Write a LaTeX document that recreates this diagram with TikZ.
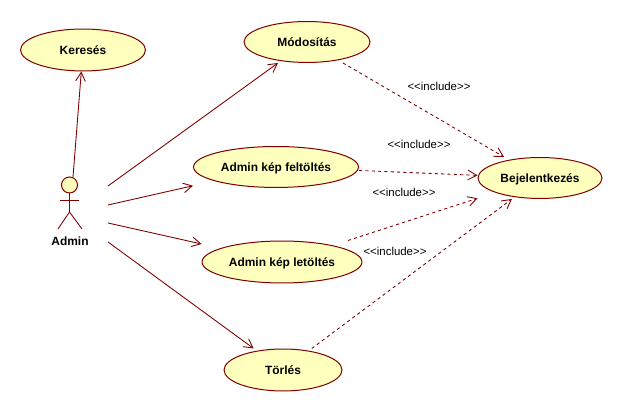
\documentclass[tikz,border=0pt]{standalone}
\usepackage{fontspec}
\setmainfont{Liberation Sans}
\usetikzlibrary{arrows.meta,positioning}
\definecolor{umlline}{RGB}{128,0,0}
\definecolor{umlfill}{RGB}{255,255,190}
\tikzstyle{ugraph}=[line width=0.5pt,draw=umlline,>={Straight Barb[length=5pt,width=5.5pt,line width=0.5pt]}]
% connectors stop at the box round the case, the ellipse sits inside it
\tikzset{ucase/.style 2 args={rectangle,inner sep=0pt,outer sep=0pt,minimum width=#1,minimum height=#2,
  font=\fontsize{6.8}{7}\selectfont\bfseries,text height=5.8pt,text depth=0.2pt,
  path picture={\draw[draw=umlline,fill=umlfill,line width=0.57pt] (path picture bounding box.center) ellipse [x radius=#1/2-0.3pt,y radius=#2/2-0.3pt];}}}
\tikzstyle{uhead}=[circle,draw=umlline,fill=umlfill,inner sep=0pt,minimum size=3.2mm,line width=0.57pt]
\tikzstyle{uassoc}=[->,umlline]
\tikzstyle{uincl}=[->,umlline,dash pattern=on 1.8pt off 1.8pt]
\tikzstyle{ulabel}=[font=\fontsize{6.5}{7}\selectfont,inner sep=0pt]

\begin{document}
\begin{tikzpicture}[ugraph]
\useasboundingbox (0,0) rectangle (12.44,8.24);
\node[ucase={25.2mm}{8.6mm}] (kereses) at (1.66,7.24) {Keresés};
\node[ucase={25.4mm}{8.4mm}] (modositas) at (6.14,7.40) {Módosítás};
\node[ucase={33.2mm}{8.4mm}] (feltoltes) at (5.52,4.90) {Admin kép feltöltés};
\node[ucase={32.2mm}{8.6mm}] (letoltes) at (5.64,3.00) {Admin kép letöltés};
\node[ucase={23.8mm}{8.6mm}] (torles) at (5.66,0.84) {Törlés};
\node[ucase={25.0mm}{8.4mm}] (bejelent) at (10.80,4.68) {Bejelentkezés};
% actor
\node[uhead] (head) at (1.39,4.54) {};
\coordinate (armL) at (1.20,4.24);
\coordinate (armR) at (1.58,4.24);
\coordinate (hip) at (1.39,4.00);
\coordinate (legL) at (1.16,3.66);
\coordinate (legR) at (1.64,3.66);
\draw[umlline](head) -- (hip);\draw[umlline](armL) -- (armR);
\draw[umlline](hip) -- (legL);\draw[umlline](hip) -- (legR);
\node[font=\fontsize{6.8}{7}\selectfont\bfseries,inner sep=0pt] (admin) at (1.40,3.41) {Admin};
% free ends at the actor
\coordinate (a0) at (1.46,4.70);
\coordinate (a1) at (2.16,4.52);
\coordinate (a2) at (2.16,4.14);
\coordinate (a3) at (2.16,3.78);
\coordinate (a4) at (2.16,3.40);
\draw[uassoc](a0) -- (kereses);
\draw[uassoc](a1) -- (modositas);
\draw[uassoc](a2) -- (feltoltes);
\draw[uassoc](a3) -- (letoltes);
\draw[uassoc](a4) -- (torles);
\draw[uincl](modositas) -- (bejelent);
\draw[uincl](feltoltes) -- (bejelent);
\draw[uincl](letoltes) -- (bejelent);
\draw[uincl](torles) -- (bejelent);
\node[ulabel] (incl1) at (8.78,6.52) {<{}<include>{}>};
\node[ulabel] (incl2) at (8.38,5.36) {<{}<include>{}>};
\node[ulabel] (incl3) at (8.08,4.40) {<{}<include>{}>};
\node[ulabel] (incl4) at (7.90,3.22) {<{}<include>{}>};
\end{tikzpicture}
\end{document}
